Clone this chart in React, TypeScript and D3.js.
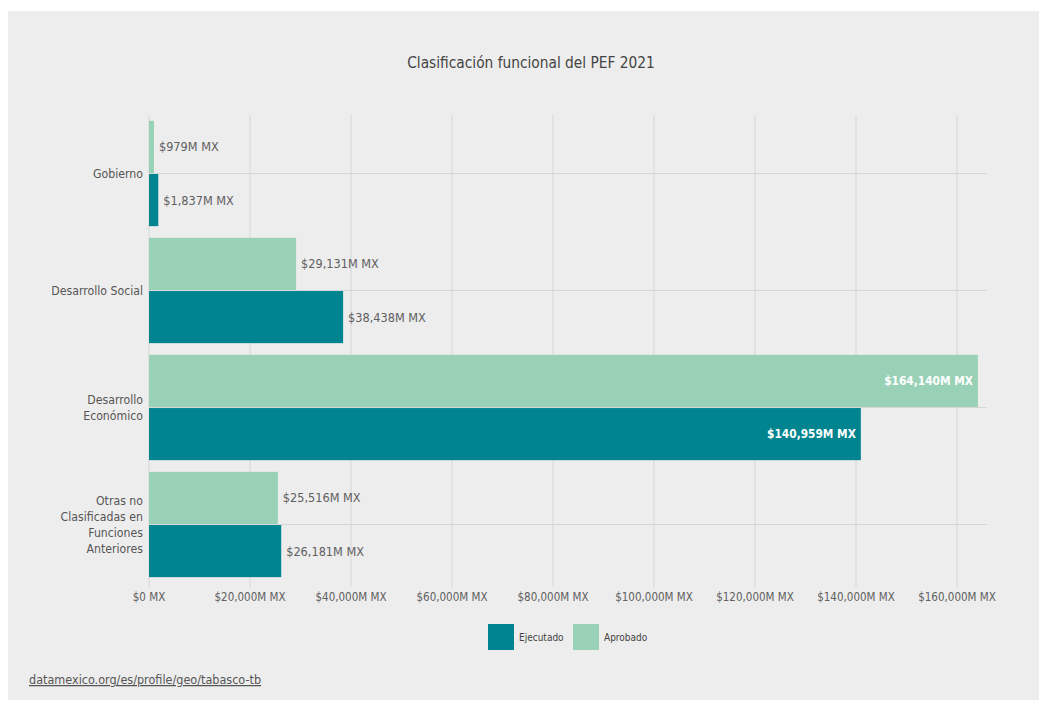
import React from "react";
import * as d3 from "d3";

const categories = ["Gobierno", "Desarrollo Social", "Desarrollo Económico", "Otras no Clasificadas en Funciones Anteriores"];
const categoryLines = [["Gobierno"], ["Desarrollo Social"], ["Desarrollo", "Económico"], ["Otras no", "Clasificadas en", "Funciones", "Anteriores"]];
const series = ["Aprobado", "Ejecutado"];
const aprobado = [979, 29131, 164140, 25516];
const ejecutado = [1837, 38438, 140959, 26181];
const xTicks = [0, 20000, 40000, 60000, 80000, 100000, 120000, 140000, 160000];
const legendItems = ["Ejecutado", "Aprobado"];
const colors: Record<string, string> = { Ejecutado: "#008590", Aprobado: "#98d1b6" };

const FONT = "'DejaVu Sans Condensed', 'Liberation Sans Narrow', sans-serif";
const W = 1039, H = 703;

export default function App() {
  const x = d3.scaleLinear().domain([0, 160000]).range([149, 957]);
  const xEnd = 987;
  const y = d3.scaleBand<string>().domain(categories).range([115, 583]).paddingInner(0.1).paddingOuter(0.05);
  const ySub = d3.scaleBand<string>().domain(series).range([0, y.bandwidth()]).paddingInner(0.02);
  const fmt = (v: number) => "$" + d3.format(",")(v) + "M MX";
  const values: Record<string, number[]> = { Aprobado: aprobado, Ejecutado: ejecutado };

  return (
    <svg width={W} height={H} style={{ position: "absolute", left: 0, top: 0, display: "block" }}>
      <rect x={0} y={0} width={W} height={H} fill="#ffffff" />
      <rect x={8} y={11} width={W - 8} height={689} fill="#ededed" />
      <text x={531} y={68} textAnchor="middle" fontFamily={FONT} fontSize={15.3} fill="#444">
        Clasificación funcional del PEF 2021
      </text>
      {xTicks.map((t) => (
        <line key={"vg" + t} x1={x(t)} x2={x(t)} y1={115} y2={587} stroke="#d6d6d6" strokeWidth={1} />
      ))}
      {categories.map((c) => (
        <line key={"hg" + c} x1={x(0)} x2={xEnd} y1={(y(c) as number) + y.bandwidth() / 2} y2={(y(c) as number) + y.bandwidth() / 2} stroke="#d6d6d6" strokeWidth={1} />
      ))}
      {categories.map((c, i) =>
        series.map((s) => {
          const v = values[s][i];
          const by = (y(c) as number) + (ySub(s) as number);
          const bw = x(v) - x(0);
          const inside = bw > 600;
          return (
            <g key={c + s}>
              <rect x={x(0)} y={by} width={Math.max(bw, 1)} height={ySub.bandwidth()} fill={colors[s]} />
              <text
                x={inside ? x(v) - 5 : x(v) + 5}
                y={by + ySub.bandwidth() / 2}
                dy="0.35em"
                textAnchor={inside ? "end" : "start"}
                fontFamily={FONT}
                fontSize={inside ? 11.8 : 12.6}
                fontWeight={inside ? "bold" : "normal"}
                fill={inside ? "#ffffff" : "#606060"}
              >
                {fmt(v)}
              </text>
            </g>
          );
        })
      )}
      {categories.map((c, i) => {
        const lines = categoryLines[i];
        const cy = (y(c) as number) + y.bandwidth() / 2;
        const lh = 16;
        return (
          <text key={"cl" + c} textAnchor="end" fontFamily={FONT} fontSize={12.2} fill="#555">
            {lines.map((l, j) => (
              <tspan key={j} x={143} y={cy + (j - (lines.length - 1) / 2) * lh} dy="0.35em">
                {l}
              </tspan>
            ))}
          </text>
        );
      })}
      {xTicks.map((t) => (
        <text key={"xt" + t} x={x(t)} y={597} dy="0.35em" textAnchor="middle" fontFamily={FONT} fontSize={11.5} fill="#606060">
          {t === 0 ? "$0 MX" : fmt(t)}
        </text>
      ))}
      {legendItems.map((s, i) => {
        const lx = 488 + i * 85;
        return (
          <g key={"lg" + s}>
            <rect x={lx} y={624} width={26} height={26} fill={colors[s]} />
            <text x={lx + 31} y={637} dy="0.35em" fontFamily={FONT} fontSize={10} fill="#444">
              {s}
            </text>
          </g>
        );
      })}
      <text x={29} y={684} fontFamily={FONT} fontSize={12.5} fill="#555" textDecoration="underline">
        datamexico.org/es/profile/geo/tabasco-tb
      </text>
    </svg>
  );
}
